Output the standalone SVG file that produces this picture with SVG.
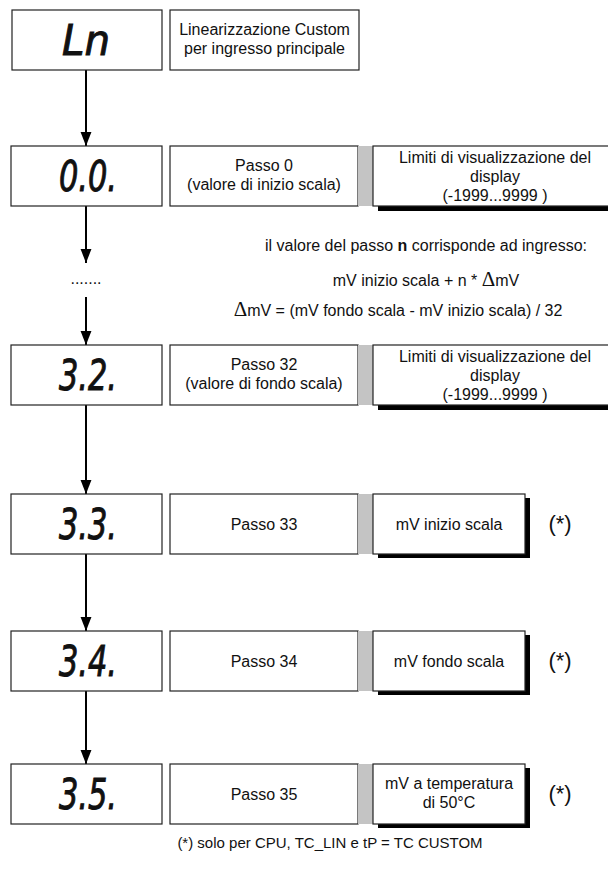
<svg xmlns="http://www.w3.org/2000/svg" width="608" height="874" viewBox="0 0 608 874">
<style>
.box{fill:#fff;stroke:#222;stroke-width:1.2}
.shadow{fill:#000}
.bar{fill:#c4c4c4}
.t{font-family:"Liberation Sans",Arial,sans-serif;font-size:16px;fill:#111;text-anchor:middle}
.small{font-size:15px}
.seg{font-family:"DejaVu Sans","Liberation Sans",sans-serif;font-size:42px;font-style:italic;font-weight:normal;fill:#111;stroke:#111;stroke-width:1;text-anchor:middle}
.star{font-family:"Liberation Sans",Arial,sans-serif;font-size:22px;fill:#111;text-anchor:middle}
.delta{font-family:"Liberation Serif","Times New Roman",serif;font-size:21px}
.conn{stroke:#000;stroke-width:2;fill:none}
</style>
<defs>
<marker id="ah" markerUnits="userSpaceOnUse" markerWidth="14" markerHeight="18" viewBox="0 0 18 14" refX="18" refY="7" orient="auto">
<path d="M0,0 L18,7 L0,14 z" fill="#000"/>
</marker>
</defs>

<g id="connectors">
<line class="conn" x1="86" y1="70" x2="86" y2="146" marker-end="url(#ah)"/>
<line class="conn" x1="86" y1="206" x2="86" y2="263" marker-end="url(#ah)"/>
<line class="conn" x1="86" y1="297" x2="86" y2="345" marker-end="url(#ah)"/>
<line class="conn" x1="86" y1="405" x2="86" y2="494" marker-end="url(#ah)"/>
<line class="conn" x1="86" y1="554" x2="86" y2="631" marker-end="url(#ah)"/>
<line class="conn" x1="86" y1="691" x2="86" y2="764" marker-end="url(#ah)"/>
</g>

<g id="node-ln">
<rect class="box" x="12" y="10" width="150" height="60"/>
<text class="seg" x="86" y="55" textLength="48" lengthAdjust="spacingAndGlyphs">Ln</text>
</g>
<g id="node-ln-desc">
<rect class="box" x="170" y="10" width="189" height="60"/>
<text class="t" x="264.5" y="35">Linearizzazione Custom</text>
<text class="t" x="264.5" y="54">per ingresso principale</text>
</g>

<g id="node-00">
<rect class="box" x="11" y="146" width="151" height="60"/>
<text class="seg" x="88" y="191" textLength="58" lengthAdjust="spacingAndGlyphs">0.0.</text>
</g>
<g id="node-00-desc">
<rect class="box" x="170" y="146" width="188" height="60"/>
<text class="t" x="264" y="171">Passo 0</text>
<text class="t" x="264" y="190">(valore di inizio scala)</text>
</g>
<g id="node-00-limits">
<rect class="bar" x="358" y="146" width="15" height="60"/>
<rect class="shadow" x="378" y="150" width="250" height="61"/>
<rect class="box" x="373" y="146" width="250" height="60"/>
<text class="t" x="495" y="163">Limiti di visualizzazione del</text>
<text class="t" x="495" y="182">display</text>
<text class="t" x="495" y="201">(-1999...9999 )</text>
</g>

<g id="node-dots">
<text class="t" x="86" y="284">.......</text>
</g>
<g id="node-formula">
<text class="t" x="426" y="251">il valore del passo <tspan font-weight="bold">n</tspan> corrisponde ad ingresso:</text>
<text class="t" x="426" y="286">mV inizio scala + n * <tspan class="delta">Δ</tspan>mV</text>
<text class="t" x="398" y="316"><tspan class="delta">Δ</tspan>mV = (mV fondo scala - mV inizio scala) / 32</text>
</g>

<g id="node-32">
<rect class="box" x="11" y="345" width="151" height="60"/>
<text class="seg" x="88" y="390" textLength="58" lengthAdjust="spacingAndGlyphs">3.2.</text>
</g>
<g id="node-32-desc">
<rect class="box" x="170" y="345" width="188" height="60"/>
<text class="t" x="264" y="370">Passo 32</text>
<text class="t" x="264" y="389">(valore di fondo scala)</text>
</g>
<g id="node-32-limits">
<rect class="bar" x="358" y="345" width="15" height="60"/>
<rect class="shadow" x="378" y="349" width="250" height="61"/>
<rect class="box" x="373" y="345" width="250" height="60"/>
<text class="t" x="495" y="362">Limiti di visualizzazione del</text>
<text class="t" x="495" y="381">display</text>
<text class="t" x="495" y="400">(-1999...9999 )</text>
</g>

<g id="node-33">
<rect class="box" x="11" y="494" width="151" height="60"/>
<text class="seg" x="88" y="539" textLength="58" lengthAdjust="spacingAndGlyphs">3.3.</text>
</g>
<g id="node-33-desc">
<rect class="box" x="170" y="494" width="188" height="60"/>
<text class="t" x="264" y="530">Passo 33</text>
</g>
<g id="node-33-value">
<rect class="bar" x="358" y="494" width="15" height="60"/>
<rect class="shadow" x="378" y="498" width="152" height="60"/>
<rect class="box" x="373" y="494" width="152" height="60"/>
<text class="t" x="449" y="530">mV inizio scala</text>
</g>
<g id="note-33"><text class="star" x="560" y="531">(*)</text></g>

<g id="node-34">
<rect class="box" x="11" y="631" width="151" height="60"/>
<text class="seg" x="88" y="676" textLength="58" lengthAdjust="spacingAndGlyphs">3.4.</text>
</g>
<g id="node-34-desc">
<rect class="box" x="170" y="631" width="188" height="60"/>
<text class="t" x="264" y="667">Passo 34</text>
</g>
<g id="node-34-value">
<rect class="bar" x="358" y="631" width="15" height="60"/>
<rect class="shadow" x="378" y="635" width="152" height="60"/>
<rect class="box" x="373" y="631" width="152" height="60"/>
<text class="t" x="449" y="667">mV fondo scala</text>
</g>
<g id="note-34"><text class="star" x="560" y="668">(*)</text></g>

<g id="node-35">
<rect class="box" x="11" y="764" width="151" height="60"/>
<text class="seg" x="88" y="809" textLength="58" lengthAdjust="spacingAndGlyphs">3.5.</text>
</g>
<g id="node-35-desc">
<rect class="box" x="170" y="764" width="188" height="60"/>
<text class="t" x="264" y="800">Passo 35</text>
</g>
<g id="node-35-value">
<rect class="bar" x="358" y="764" width="15" height="60"/>
<rect class="shadow" x="378" y="768" width="152" height="60"/>
<rect class="box" x="373" y="764" width="152" height="60"/>
<text class="t" x="449" y="789">mV a temperatura</text>
<text class="t" x="449" y="808">di 50°C</text>
</g>
<g id="note-35"><text class="star" x="560" y="801">(*)</text></g>

<g id="footnote">
<text class="t small" x="330" y="848">(*) solo per CPU, TC_LIN e tP = TC CUSTOM</text>
</g>
</svg>
